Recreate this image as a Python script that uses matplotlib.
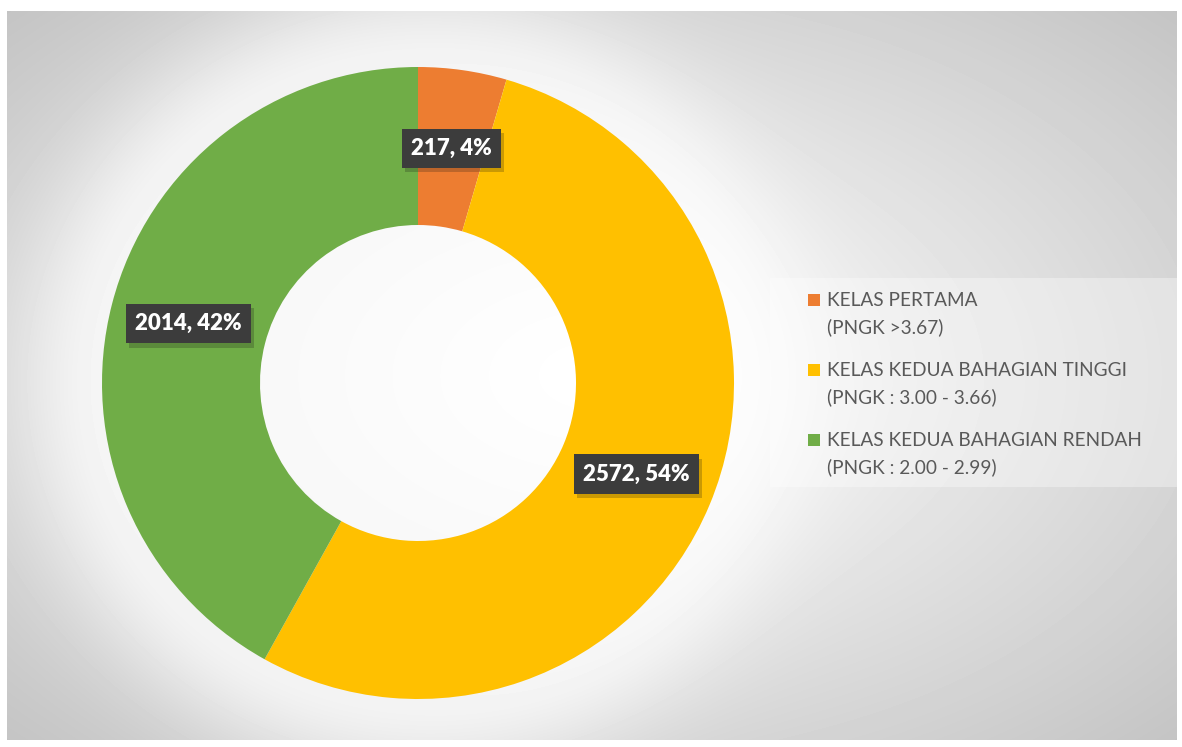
import numpy as np
from matplotlib import pyplot as plt
from matplotlib.patches import Rectangle
import matplotlib.patheffects as pe

categories = ["KELAS PERTAMA", "KELAS KEDUA BAHAGIAN TINGGI", "KELAS KEDUA BAHAGIAN RENDAH"]
ranges = ["(PNGK >3.67)", "(PNGK : 3.00 - 3.66)", "(PNGK : 2.00 - 2.99)"]
counts = [217, 2572, 2014]
percents = [4, 54, 42]
colors = ["#ed7d31", "#ffc000", "#70ad47"]

W, H = 1182, 747
fig = plt.figure(figsize=(W / 100, H / 100), dpi=100)
fig.patch.set_facecolor("white")

# radial grey background with a soft white glow round the ring
bw, bh = 1170, 729
bg = fig.add_axes([7 / W, 7 / H, bw / W, bh / H])
yy, xx = np.mgrid[0:bh, 0:bw]
t = np.sqrt(((xx - bw / 2) / (bw / 2)) ** 2 + ((yy - bh / 2) / (bh / 2)) ** 2) / np.sqrt(2)
shade = 1 - (59 / 255) * t ** 1.05
d = np.sqrt((xx - 411) ** 2 + (yy - 372) ** 2)
glow = np.exp(-(np.clip(d - 316, 0, None) / 85) ** 2)
shade = shade + (1 - shade) * 0.7 * glow
bg.imshow(shade, cmap="gray", vmin=0, vmax=1, aspect="auto", interpolation="bilinear")
bg.axis("off")

# donut
R = 316
ax = fig.add_axes([(418 - R * 1.2) / W, (747 - 383 - R * 1.2) / H, 2 * R * 1.2 / W, 2 * R * 1.2 / H])
wedges, _ = ax.pie(counts, colors=colors, startangle=90, counterclock=False,
                   radius=1, wedgeprops=dict(width=0.5, linewidth=0))
ax.set_xlim(-1.2, 1.2)
ax.set_ylim(-1.2, 1.2)
ax.set_aspect("equal")
ax.axis("off")

for w, c, p in zip(wedges, counts, percents):
    mid = np.deg2rad((w.theta1 + w.theta2) / 2)
    txt = ax.text(0.75 * np.cos(mid), 0.75 * np.sin(mid), f"{c}, {p}%",
                  ha="center", va="center", color="white", fontsize=16,
                  fontweight="heavy", family="Lato", zorder=5,
                  bbox=dict(boxstyle="square,pad=0.42", facecolor="#3c3c3c", edgecolor="none"))
    txt.get_bbox_patch().set_path_effects([
        pe.SimplePatchShadow(offset=(2, -3), alpha=0.22), pe.Normal()])

# legend
fig.patches.append(Rectangle((770 / W, (747 - 487) / H), 407 / W, 209 / H,
                             transform=fig.transFigure, facecolor="white",
                             alpha=0.35, edgecolor="none"))
for i, (cat, rng, col) in enumerate(zip(categories, ranges, colors)):
    y1 = 747 - (300 + 70 * i)
    fig.patches.append(Rectangle((808 / W, (y1 - 6) / H), 12 / W, 12 / H,
                                 transform=fig.transFigure, facecolor=col, edgecolor="none"))
    fig.text(827 / W, y1 / H, cat, ha="left", va="center", fontsize=13.7,
             color="#595959", family="Lato")
    fig.text(827 / W, (y1 - 27) / H, rng, ha="left", va="center", fontsize=13.7,
             color="#595959", family="Lato")

fig.savefig("out.png", dpi=100)
plt.close(fig)
